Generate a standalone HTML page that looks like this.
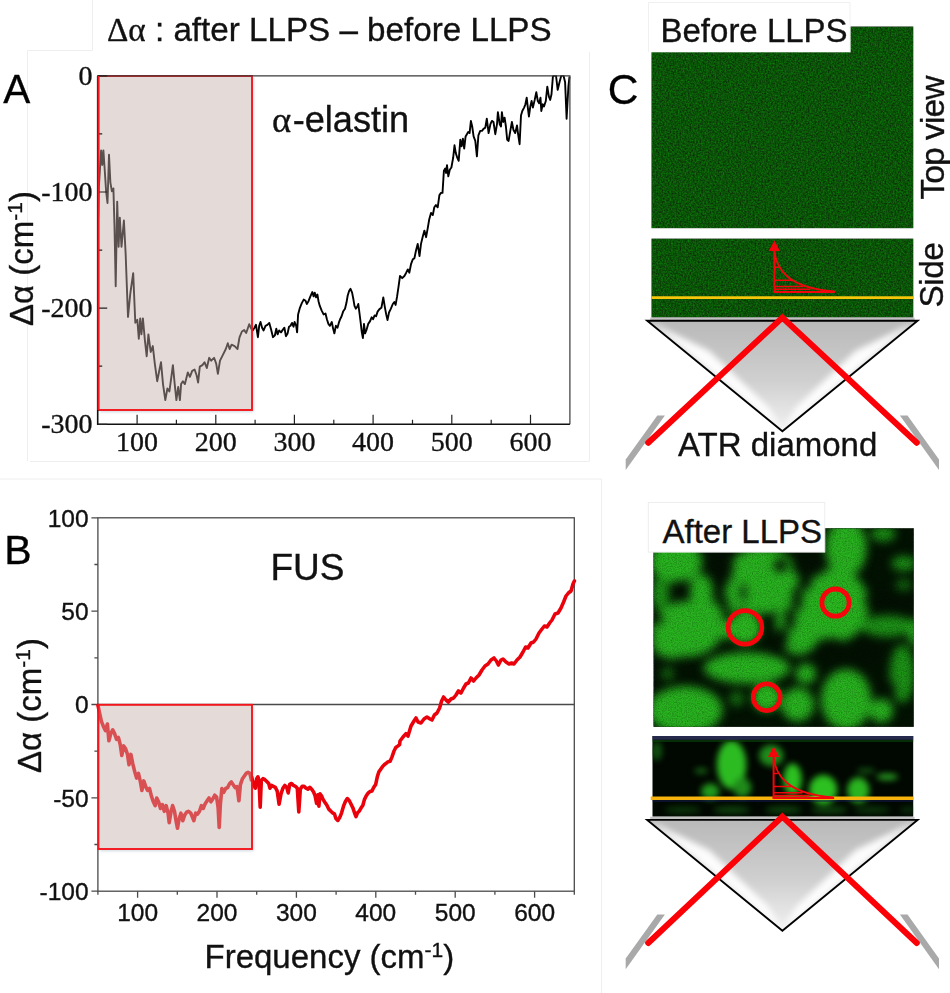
<!DOCTYPE html>
<html><head><meta charset="utf-8"><title>Figure</title>
<style>
html,body{margin:0;padding:0;background:#fff;}
body{width:950px;height:993px;overflow:hidden;font-family:"Liberation Sans", sans-serif;}
svg{display:block;}
.sans{font-family:"Liberation Sans", sans-serif;}
text{stroke:#111;stroke-width:0.35px;paint-order:stroke fill;}
.serif{font-family:"Liberation Serif", serif;}
</style></head><body>
<svg width="950" height="993" viewBox="0 0 950 993">
<defs>
<filter id="noise" x="0" y="0" width="100%" height="100%" color-interpolation-filters="sRGB">
  <feTurbulence type="fractalNoise" baseFrequency="0.6" numOctaves="2" seed="3" result="t"/>
  <feColorMatrix type="matrix" values="0 0 0 0 0.045  0.46 0 0 0 0.095  0 0 0 0 0.03  0 0 0 0 1"/>
</filter>
<filter id="grain" x="0" y="0" width="100%" height="100%" color-interpolation-filters="sRGB">
  <feTurbulence type="fractalNoise" baseFrequency="0.8" numOctaves="2" seed="11"/>
  <feColorMatrix type="matrix" values="0 0 0 0 0  0 0 0 0 0  0 0 0 0 0  0.55 0 0 0 -0.2"/>
</filter>
<filter id="blur6" x="-20%" y="-20%" width="140%" height="140%" color-interpolation-filters="sRGB"><feGaussianBlur stdDeviation="5"/></filter>
<filter id="blurB" x="-20%" y="-20%" width="140%" height="140%" color-interpolation-filters="sRGB"><feGaussianBlur stdDeviation="4.6"/></filter>
<filter id="blur3" x="-20%" y="-20%" width="140%" height="140%" color-interpolation-filters="sRGB"><feGaussianBlur stdDeviation="3"/></filter>
<filter id="blur2" x="-20%" y="-20%" width="140%" height="140%"><feGaussianBlur stdDeviation="2"/></filter>
<filter id="shadow" x="-10%" y="-10%" width="130%" height="130%"><feGaussianBlur stdDeviation="1.5"/></filter>
<linearGradient id="triG" x1="0" y1="0" x2="0" y2="1">
  <stop offset="0" stop-color="#b9b9b9"/><stop offset="0.55" stop-color="#d0d0d0"/><stop offset="1" stop-color="#f2f2f2"/>
</linearGradient>
<clipPath id="clipA"><rect x="97" y="75.3" width="474" height="350"/></clipPath>
<clipPath id="clipTop2"><rect x="653.7" y="528.4" width="260.1" height="198.3"/></clipPath>
<clipPath id="clipSide2"><rect x="652.5" y="736" width="260.7" height="80.6"/></clipPath>
</defs>
<rect width="950" height="993" fill="#ffffff"/>
<g style="opacity:0.999">

<g stroke="#eeeeee" stroke-width="1" fill="none">
<path d="M27.5,50.5 H92.5 V0"/><path d="M27.5,50.5 V461"/><path d="M589.5,52 V461.5 H30"/>
<path d="M0,479 H601.5 V993"/>
</g>
<rect x="99.9" y="78.0" width="153.6" height="334.0" fill="#9fb4c4" opacity="0.55" filter="url(#shadow)"/>
<rect x="98.4" y="76.0" width="153.6" height="334.0" fill="#ffffff"/>
<polyline clip-path="url(#clipA)" points="98.2,217.6 98.8,188.4 101.1,150.4 102.3,165.0 103.4,150.4 104.6,168.0 106.1,191.3 107.5,203.0 109.0,154.8 110.4,182.6 111.9,191.3 113.4,188.4 114.5,226.4 115.7,286.2 117.2,201.6 118.6,246.8 119.8,217.6 121.5,246.8 123.9,220.5 125.6,252.7 128.0,316.9 130.3,293.5 133.2,273.1 135.3,322.7 137.3,319.8 138.8,338.8 140.2,318.4 141.4,334.4 142.9,318.4 144.9,340.3 146.7,356.3 148.4,334.4 150.7,352.0 152.8,346.1 154.8,363.6 157.2,381.2 159.5,369.5 161.0,362.2 163.0,384.1 165.3,400.1 167.4,388.5 169.4,391.4 171.2,378.2 172.9,365.1 174.7,384.1 176.4,400.1 178.2,387.0 179.9,400.1 181.1,384.1 182.9,381.2 184.9,384.1 187.8,372.4 189.9,376.8 192.2,370.9 194.6,369.5 196.6,375.3 198.1,382.6 199.8,366.6 202.4,365.1 204.5,362.2 206.8,368.0 209.2,357.8 211.2,360.7 214.1,357.8 216.2,363.6 217.9,373.9 220.0,360.7 222.9,354.9 225.8,349.0 227.8,343.2 229.6,349.0 231.6,344.7 234.6,346.1 237.5,349.0 239.5,337.4 241.9,331.5 244.2,330.1 246.2,333.0 249.2,324.2 251.2,328.6 252.6,330.5 254.5,327.7 256.0,324.8 257.9,337.2 259.2,325.8 260.5,322.0 262.1,327.7 263.6,330.5 265.5,325.8 267.4,324.8 269.3,322.9 271.1,329.6 273.0,337.2 274.9,335.3 276.3,328.6 277.6,334.3 279.1,330.5 281.0,332.4 282.9,329.6 284.4,327.7 285.9,336.2 287.6,333.4 289.0,326.7 290.5,325.8 292.0,322.9 293.5,326.7 294.6,322.0 296.2,325.8 297.1,332.4 298.1,314.4 299.9,307.8 301.8,303.1 303.7,299.6 305.6,300.8 306.8,304.0 308.5,301.2 310.4,296.4 312.3,292.1 313.6,296.4 314.7,292.6 316.1,297.4 317.4,294.5 318.5,301.2 319.8,305.9 321.7,310.6 323.6,314.4 325.5,313.5 326.9,319.2 328.4,323.9 329.9,325.8 331.8,322.0 333.1,328.6 334.4,333.4 335.9,325.8 337.5,327.7 338.8,322.9 340.1,319.2 341.6,316.3 343.1,311.6 345.0,308.7 346.4,303.1 347.7,295.5 349.2,290.7 350.5,288.8 352.1,292.6 353.4,299.3 354.5,305.9 355.8,308.7 357.2,306.8 358.3,304.0 359.4,312.5 360.6,322.0 361.7,331.5 362.9,338.1 364.0,323.9 365.1,333.4 366.6,329.6 368.2,323.9 370.1,321.1 371.6,317.3 373.1,319.2 374.6,315.4 376.1,316.3 377.6,311.6 379.5,309.1 381.4,307.8 383.3,297.4 384.8,306.8 386.2,314.4 387.5,320.1 389.0,312.5 390.9,308.7 392.8,304.0 394.3,302.1 395.6,304.9 397.1,296.4 398.5,286.9 400.0,276.0 402.2,278.2 404.4,276.0 406.2,272.7 407.8,269.4 409.3,272.7 411.1,263.8 412.8,259.4 414.4,258.3 416.0,250.5 417.7,243.9 419.5,256.1 421.0,243.9 422.6,237.2 424.4,230.6 426.1,237.2 427.7,228.4 429.2,219.5 431.0,212.9 432.8,215.1 434.3,207.3 435.9,205.1 437.7,207.3 439.4,195.1 441.0,192.9 442.5,192.9 443.9,170.8 445.2,168.6 446.1,173.0 447.0,165.2 448.3,176.3 449.8,169.7 451.4,167.5 453.2,157.5 454.5,145.3 455.8,153.1 457.2,157.5 458.7,160.8 460.3,139.8 461.6,146.4 462.9,138.7 464.2,148.6 465.6,136.4 466.9,134.2 468.2,132.0 469.6,133.1 470.9,120.9 472.2,126.5 473.6,136.4 475.3,140.9 476.9,156.4 478.4,135.3 480.2,130.9 482.0,130.9 483.7,128.7 485.3,127.6 486.8,118.7 488.6,133.1 490.4,124.2 491.9,120.9 493.5,122.0 495.3,134.2 497.0,124.2 497.9,112.1 499.7,124.2 501.0,126.5 501.9,112.1 503.2,122.0 504.6,117.6 505.9,126.5 507.2,139.8 508.6,140.9 510.3,130.9 511.9,122.0 513.4,129.8 515.2,133.1 517.0,125.4 518.1,134.2 519.6,144.2 521.0,115.4 522.3,111.0 524.1,107.6 525.4,104.3 526.7,97.7 528.1,109.8 528.9,116.5 530.3,106.5 531.6,101.0 532.9,107.6 534.7,99.9 536.3,92.1 537.8,101.0 539.1,103.2 540.5,97.7 541.3,111.0 542.7,104.3 544.0,106.5 545.8,101.0 547.3,86.6 548.9,96.6 550.2,99.9 551.5,94.3 552.9,76.6 554.2,75.5 556.0,75.5 557.7,89.9 559.5,82.2 561.3,75.5 563.5,75.5 565.1,82.2 566.6,118.7 568.4,86.6 569.5,76.6" fill="none" stroke="#000" stroke-width="1.9" stroke-linejoin="round"/>
<rect x="98.4" y="76.0" width="153.6" height="334.0" fill="#c4aeaa" fill-opacity="0.46" stroke="#f4161c" stroke-width="1.9"/>
<path d="M97.7,75.8 H569.9 V424.3" fill="none" stroke="#3a3a3a" stroke-width="1.2"/>
<path d="M97.7,75.8 V424.3 H569.9" fill="none" stroke="#111" stroke-width="1.6"/>
<path d="M137.1,424.3 v-9.5 M215.8,424.3 v-9.5 M294.4,424.3 v-9.5 M373.1,424.3 v-9.5 M451.8,424.3 v-9.5 M530.5,424.3 v-9.5 M176.4,424.3 v-4.5 M255.1,424.3 v-4.5 M333.8,424.3 v-4.5 M412.5,424.3 v-4.5 M491.2,424.3 v-4.5 M97.7,75.8 h9.5 M97.7,192.0 h9.5 M97.7,308.1 h9.5 M97.7,424.3 h9.5 M97.7,133.9 h4.5 M97.7,250.1 h4.5 M97.7,366.2 h4.5" stroke="#222" stroke-width="1.2" fill="none"/>
<path d="M98.4,76.0 V410.0" stroke="#f4161c" stroke-width="1.9"/>
<g class="serif" font-size="28" fill="#111">
<text x="137.1" y="450.5" text-anchor="middle">100</text>
<text x="215.8" y="450.5" text-anchor="middle">200</text>
<text x="294.4" y="450.5" text-anchor="middle">300</text>
<text x="373.1" y="450.5" text-anchor="middle">400</text>
<text x="451.8" y="450.5" text-anchor="middle">500</text>
<text x="530.5" y="450.5" text-anchor="middle">600</text>
<text x="92.5" y="84.8" text-anchor="end">0</text>
<text x="92.5" y="201.0" text-anchor="end">-100</text>
<text x="92.5" y="317.1" text-anchor="end">-200</text>
<text x="92.5" y="433.3" text-anchor="end">-300</text>
</g>
<text transform="translate(32.5,326) rotate(-90)" font-size="33" fill="#111"><tspan class="sans">Δα (cm</tspan><tspan class="sans" font-size="21" dy="-11">-1</tspan><tspan class="sans" dy="11">)</tspan></text>
<text x="107" y="40.5" font-size="33.2" fill="#111"><tspan class="serif">Δα</tspan><tspan class="sans"> : after LLPS – before LLPS</tspan></text>
<text class="sans" x="3.2" y="102.5" font-size="40.5" fill="#000">A</text>
<text x="272" y="131.7" font-size="36.5" fill="#111"><tspan class="serif">α</tspan><tspan class="sans" dx="1.5" textLength="116.5" lengthAdjust="spacingAndGlyphs">-elastin</tspan></text>
<rect x="99.9" y="706.8" width="153.6" height="144.20000000000005" fill="#9fb4c4" opacity="0.5" filter="url(#shadow)"/>
<rect x="98.4" y="704.8" width="153.6" height="144.20000000000005" fill="#ffffff"/>
<rect x="97.9" y="517.8" width="476.4" height="373.4000000000001" fill="none" stroke="#4a4a4a" stroke-width="1.3"/>
<path d="M97.9,704.5 H574.3" stroke="#4a4a4a" stroke-width="1.3"/>
<path d="M137.6,891.2 v6.5 M217.0,891.2 v6.5 M296.4,891.2 v6.5 M375.8,891.2 v6.5 M455.2,891.2 v6.5 M534.6,891.2 v6.5 M97.9,891.2 v3.5 M177.3,891.2 v3.5 M256.7,891.2 v3.5 M336.1,891.2 v3.5 M415.5,891.2 v3.5 M494.9,891.2 v3.5 M574.3,891.2 v3.5 M97.9,517.8 h-6.5 M97.9,611.1 h-6.5 M97.9,704.5 h-6.5 M97.9,797.9 h-6.5 M97.9,891.2 h-6.5 M97.9,564.5 h-3.5 M97.9,657.8 h-3.5 M97.9,751.2 h-3.5 M97.9,844.5 h-3.5" stroke="#4a4a4a" stroke-width="1.3" fill="none"/>
<polyline points="98.0,705.5 99.5,712.7 101.4,721.3 103.6,726.9 105.5,730.7 107.4,724.1 108.9,740.8 110.8,733.6 112.7,729.8 114.6,733.6 116.5,739.3 118.4,737.4 120.3,744.9 121.8,755.4 123.7,745.9 125.6,748.7 127.5,754.4 129.0,764.8 130.9,754.4 132.8,763.9 134.7,771.5 136.6,778.1 138.5,773.4 140.4,781.9 141.9,790.4 143.8,780.9 145.7,786.6 147.6,790.4 149.5,788.5 151.4,796.1 153.3,801.8 155.2,805.6 156.7,798.0 158.6,801.8 160.5,808.4 162.4,804.6 164.3,811.3 166.2,805.6 168.1,813.2 169.2,822.6 171.1,811.3 172.6,805.6 174.5,811.3 176.0,820.7 177.5,828.3 179.1,818.8 180.9,813.2 182.8,820.7 184.7,815.1 186.6,812.2 188.5,811.3 190.8,813.2 192.3,816.9 193.8,820.7 195.7,813.2 197.6,814.1 199.5,811.3 201.4,805.6 203.3,808.4 205.2,803.7 207.1,800.8 209.0,798.0 210.9,801.8 212.8,798.9 214.7,795.2 216.6,797.1 218.1,807.5 219.2,827.4 220.4,803.7 221.9,788.5 223.8,792.3 225.7,788.5 227.6,787.6 229.5,783.8 231.3,781.9 233.2,784.7 235.1,787.6 237.0,786.6 238.9,800.8 240.4,784.7 242.3,779.1 244.2,776.2 246.1,773.4 248.0,772.4 249.9,773.4 251.4,780.0 251.6,776.8 253.5,784.4 255.4,788.2 256.7,778.7 257.9,776.8 259.0,780.6 260.2,807.2 261.3,780.6 263.0,778.7 264.9,779.7 266.8,781.6 268.7,783.5 270.0,788.2 271.5,785.4 273.4,786.3 275.3,787.3 277.2,791.1 279.1,804.3 281.0,793.9 282.9,788.2 284.8,785.4 286.7,787.3 288.2,792.9 289.7,784.4 291.6,783.5 293.5,785.4 295.4,786.3 297.3,788.2 298.8,811.9 300.3,789.2 302.2,786.3 304.1,786.3 306.0,788.2 307.9,789.2 309.8,787.3 311.7,789.2 313.6,792.0 315.1,795.8 316.6,803.4 317.8,794.8 318.9,806.2 320.0,793.9 321.5,795.8 323.1,799.6 325.0,802.4 326.9,805.3 328.7,809.1 330.6,810.9 332.5,812.8 334.4,813.8 335.9,818.5 337.8,820.4 339.7,817.6 341.6,812.8 343.5,806.2 345.4,801.5 347.3,798.6 349.2,800.5 351.1,804.3 353.0,808.1 354.5,812.8 356.0,816.6 357.5,812.8 359.4,810.9 361.0,808.1 362.9,805.3 364.4,799.6 366.3,795.8 368.2,792.9 370.1,791.6 371.9,791.1 373.8,787.3 375.7,784.4 377.3,776.8 378.8,772.1 380.7,769.3 382.6,766.4 384.5,764.5 386.3,763.2 388.2,761.7 390.1,761.3 392.0,756.9 393.9,751.3 395.8,747.5 397.7,746.1 399.6,744.6 400.0,741.0 403.0,737.0 406.0,733.6 408.0,736.0 411.0,726.0 414.0,721.0 416.0,718.0 418.0,722.0 421.0,723.0 424.0,719.0 427.0,717.0 430.0,719.0 432.0,720.0 434.4,715.0 437.0,713.0 439.6,708.0 441.6,701.0 443.6,697.0 446.0,700.0 448.4,702.0 451.0,699.0 453.6,698.0 456.0,695.0 458.4,691.0 461.0,693.0 463.6,688.0 466.0,684.0 468.4,683.0 471.0,678.0 473.6,681.0 476.0,678.0 479.0,675.0 482.0,670.0 485.0,666.0 488.0,664.0 491.0,660.0 494.0,658.0 496.4,661.0 498.4,665.0 501.0,660.0 503.0,659.0 506.0,662.0 509.0,664.0 511.6,663.0 514.0,664.0 517.0,660.0 520.0,657.0 523.0,652.0 525.6,647.0 528.0,648.0 531.0,643.0 533.6,642.0 536.0,639.0 539.0,633.0 542.0,629.0 544.4,626.0 547.0,627.0 549.6,623.0 552.0,620.0 555.0,614.0 558.0,613.0 561.0,608.0 563.6,602.0 566.0,596.0 568.4,593.0 571.0,591.0 573.0,584.0 574.4,581.0" fill="none" stroke="#ea000b" stroke-width="3.6" stroke-linejoin="round" stroke-linecap="round"/>
<rect x="98.4" y="704.8" width="153.6" height="144.20000000000005" fill="#c4aeaa" fill-opacity="0.46" stroke="#f4161c" stroke-width="1.9"/>
<g class="sans" font-size="24.5" fill="#111">
<text x="137.6" y="920.5" text-anchor="middle">100</text>
<text x="217.0" y="920.5" text-anchor="middle">200</text>
<text x="296.4" y="920.5" text-anchor="middle">300</text>
<text x="375.8" y="920.5" text-anchor="middle">400</text>
<text x="455.2" y="920.5" text-anchor="middle">500</text>
<text x="534.6" y="920.5" text-anchor="middle">600</text>
<text x="88.6" y="526.5" text-anchor="end">100</text>
<text x="88.6" y="619.9" text-anchor="end">50</text>
<text x="88.6" y="713.2" text-anchor="end">0</text>
<text x="88.6" y="806.6" text-anchor="end">-50</text>
<text x="88.6" y="899.9" text-anchor="end">-100</text>
</g>
<text transform="translate(41.3,773) rotate(-90)" font-size="33" fill="#111" class="sans"><tspan>Δα (cm</tspan><tspan font-size="21" dy="-11">-1</tspan><tspan dy="11">)</tspan></text>
<text class="sans" x="204.5" y="967.5" font-size="33" fill="#111"><tspan>Frequency (cm</tspan><tspan font-size="21" dy="-11">-1</tspan><tspan dy="11">)</tspan></text>
<text class="sans" x="4.3" y="563.7" font-size="41" fill="#000">B</text>
<text class="sans" x="270.5" y="580.3" font-size="37" fill="#111">FUS</text>
<rect x="651.5" y="26.5" width="261.8" height="201.7" fill="#072307"/>
<rect x="652.5" y="27.5" width="259.8" height="199.7" filter="url(#noise)"/>
<rect x="648" y="2" width="202.3" height="50.3" fill="#fff"/>
<path d="M648.5,52.3 V2.5 H850 V52.3" fill="none" stroke="#f0f0f0" stroke-width="1"/>
<text class="sans" x="660.5" y="42.4" font-size="33" fill="#111">Before LLPS</text>
<text class="sans" x="607.8" y="104.3" font-size="42.5" fill="#000">C</text>
<text class="sans" transform="translate(943.7,199.6) rotate(-90)" font-size="33.5" fill="#111" textLength="124" lengthAdjust="spacing">Top view</text>
<text class="sans" transform="translate(943.3,307.6) rotate(-90)" font-size="33.5" fill="#111" textLength="65.6" lengthAdjust="spacing">Side</text>
<rect x="651.5" y="238.6" width="261.8" height="79" fill="#072307"/>
<rect x="652.5" y="239.6" width="259.8" height="77" filter="url(#noise)"/>
<path d="M651.5,297.6 H913.3" stroke="#f6c60a" stroke-width="2.8"/>
<g stroke="#f2060c" fill="none" stroke-width="2">
<path d="M774.4,291.9 V249.89999999999998"/>
<path d="M773.4,291.9 H834.9"/>
<path d="M774.4,250.89999999999998 C776.4,269.9 788.4,287.9 834.4,291.4" stroke-width="1.8"/>
<path d="M774.4,267.29999999999995 h4.3 M774.4,280.29999999999995 h17.5 M774.4,286.59999999999997 h29 M774.4,289.29999999999995 h36" stroke-width="1.5"/>
</g>
<path d="M774.4,240.39999999999998 l5.6,10.5 h-11.2 z" fill="#f2060c"/>
<clipPath id="tca"><path d="M647.2,320.7 L917.6,320.7 L782.4,431.3 Z"/></clipPath>
<path d="M650.2,318.7 H914.6" stroke="#c2c2c2" stroke-width="2.4"/>
<path d="M647.2,320.7 L917.6,320.7 L782.4,431.3 Z" fill="url(#triG)"/>
<g clip-path="url(#tca)"><g filter="url(#blur3)" fill="#ffffff" opacity="0.95">
<path d="M647.2,320.7 L709.2,350.7 L768.4,407.3 L782.4,431.3 Z"/>
<path d="M917.6,320.7 L855.6,350.7 L796.4,407.3 L782.4,431.3 Z"/>
</g></g>
<path d="M647.2,320.7 L917.6,320.7 L782.4,431.3 Z" fill="none" stroke="#000" stroke-width="1.9" stroke-linejoin="miter"/>
<path d="M657.3,415.4 h7.6 L625.7,470.09999999999997 v-10.7 Z" fill="#a9a9a9"/>
<path d="M907.5,415.4 h-7.6 L939,470.09999999999997 v-10.7 Z" fill="#a9a9a9"/>
<path d="M648.2,442.8 L782.4,317.5 L916.8,442.8" fill="none" stroke="#fb0007" stroke-width="6" stroke-linecap="round" stroke-linejoin="miter"/>
<text class="sans" x="678" y="455.5" font-size="33" fill="#111">ATR diamond</text>
<rect x="653.5" y="528.2" width="260.3" height="198.7" fill="#021202"/>
<g clip-path="url(#clipTop2)"><g filter="url(#blurB)">
<ellipse cx="676.1" cy="561.8" rx="26.1" ry="21.4" fill="#28b41f"/>
<ellipse cx="660.3" cy="593.5" rx="9.3" ry="15.8" fill="#1c9416"/>
<ellipse cx="701.3" cy="591.6" rx="11.6" ry="17.7" fill="#28b41f"/>
<ellipse cx="687.3" cy="628.9" rx="35.4" ry="28.0" fill="#28b41f"/>
<ellipse cx="672.4" cy="641.9" rx="20.9" ry="16.8" fill="#28b41f"/>
<ellipse cx="705.9" cy="619.6" rx="17.7" ry="20.9" fill="#28b41f"/>
<ellipse cx="745.1" cy="628.0" rx="15.7" ry="15.7" fill="#28b41f"/>
<ellipse cx="726.4" cy="629.8" rx="7.8" ry="9.3" fill="#28b41f"/>
<ellipse cx="761.9" cy="580.4" rx="37.3" ry="33.6" fill="#28b41f"/>
<ellipse cx="733.0" cy="600.9" rx="11.6" ry="11.6" fill="#28b41f"/>
<ellipse cx="746.9" cy="668.0" rx="43.3" ry="15.7" fill="#28b41f"/>
<ellipse cx="667.7" cy="673.6" rx="6.3" ry="6.3" fill="#157211"/>
<ellipse cx="685.4" cy="710.0" rx="37.3" ry="23.9" fill="#28b41f"/>
<ellipse cx="736.7" cy="698.8" rx="7.5" ry="7.5" fill="#157211"/>
<ellipse cx="766.5" cy="697.5" rx="13.8" ry="13.8" fill="#28b41f"/>
<ellipse cx="846.1" cy="547.7" rx="20.6" ry="28.9" fill="#28b41f"/>
<ellipse cx="833.7" cy="605.5" rx="35.1" ry="37.2" fill="#28b41f"/>
<ellipse cx="798.6" cy="624.1" rx="23.1" ry="31.0" fill="#28b41f"/>
<ellipse cx="887.4" cy="626.2" rx="26.8" ry="10.7" fill="#1c9416"/>
<ellipse cx="883.2" cy="533.7" rx="12.4" ry="7.8" fill="#1c9416"/>
<ellipse cx="903.9" cy="563.4" rx="12.4" ry="7.4" fill="#1c9416"/>
<ellipse cx="903.9" cy="584.9" rx="8.3" ry="5.4" fill="#157211"/>
<ellipse cx="913.8" cy="632.4" rx="5.4" ry="13.6" fill="#28b41f"/>
<ellipse cx="902.2" cy="673.7" rx="12.4" ry="28.9" fill="#1c9416"/>
<ellipse cx="846.1" cy="699.5" rx="25.2" ry="30.6" fill="#28b41f"/>
<ellipse cx="805.8" cy="673.7" rx="10.3" ry="10.3" fill="#28b41f"/>
<ellipse cx="797.6" cy="704.6" rx="16.5" ry="16.9" fill="#28b41f"/>
<ellipse cx="881.2" cy="710.8" rx="12.0" ry="12.0" fill="#28b41f"/>
<ellipse cx="782.1" cy="572.5" rx="10.3" ry="17.6" fill="#28b41f"/>
<ellipse cx="680.8" cy="590.7" rx="9.3" ry="10.4" fill="#021002"/>
<ellipse cx="743.2" cy="592.5" rx="2.8" ry="9.3" fill="#021002"/>
<ellipse cx="780.5" cy="565.5" rx="6.7" ry="6.7" fill="#021002"/>
<ellipse cx="657.8" cy="619.6" rx="5.6" ry="4.5" fill="#021002"/>
<ellipse cx="721.8" cy="565.5" rx="11.6" ry="20.5" fill="#021002"/>
<ellipse cx="724.6" cy="604.7" rx="4.1" ry="8.4" fill="#021002"/>
<ellipse cx="887.4" cy="601.4" rx="23.1" ry="9.9" fill="#021002"/>
<ellipse cx="831.6" cy="646.4" rx="12.8" ry="8.7" fill="#021002"/>
<ellipse cx="866.7" cy="651.4" rx="12.4" ry="14.9" fill="#021002"/>
<ellipse cx="808.9" cy="566.3" rx="16.9" ry="11.4" fill="#021002"/>
<ellipse cx="848.1" cy="661.3" rx="14.5" ry="6.2" fill="#021002"/>
<ellipse cx="887.4" cy="690.2" rx="8.3" ry="9.3" fill="#021002"/>
<ellipse cx="816.4" cy="558.9" rx="7.3" ry="11.3" fill="#021002"/>
<ellipse cx="805.7" cy="578.6" rx="6.2" ry="11.8" fill="#021002"/>
<ellipse cx="797.2" cy="598.9" rx="5.1" ry="12.4" fill="#021002"/>
<ellipse cx="789.9" cy="618.7" rx="5.1" ry="11.8" fill="#021002"/>
<ellipse cx="782.6" cy="637.3" rx="5.6" ry="10.2" fill="#021002"/>
<ellipse cx="777.5" cy="650.5" rx="6.8" ry="6.8" fill="#021002"/>
</g>
<path d="M653.6,528.4 V726.8" stroke="#5a4fb0" stroke-width="1" opacity="0.7"/>
<g filter="url(#blur3)" fill="#2cc020" opacity="0.55"><circle cx="745" cy="627.5" r="13"/><circle cx="835.5" cy="602.6" r="11"/><circle cx="766.7" cy="697.2" r="11"/></g>
</g>
<rect x="653.7" y="528.4" width="260.1" height="198.3" filter="url(#grain)"/>
<g fill="none" stroke="#f5060c" stroke-width="4.8">
<circle cx="745" cy="627.4" r="16.8"/><circle cx="835.5" cy="602.6" r="13.6"/><circle cx="766.7" cy="697.2" r="13.4"/>
</g>
<rect x="648.3" y="502.5" width="176.5" height="49.6" fill="#fff" stroke="#ededed" stroke-width="1"/>
<text class="sans" x="662.5" y="542.6" font-size="33" fill="#111">After LLPS</text>
<rect x="652.5" y="736" width="260.7" height="80.6" fill="#010701"/>
<g clip-path="url(#clipSide2)"><g filter="url(#blur3)">
<ellipse cx="731.6" cy="764.7" rx="14.7" ry="24.4" fill="#2cbc22"/>
<ellipse cx="710.2" cy="791.5" rx="9.2" ry="7.9" fill="#229a1c"/>
<ellipse cx="701.1" cy="770.8" rx="6.7" ry="2.4" fill="#1c7a18"/>
<ellipse cx="771.3" cy="755.5" rx="12.2" ry="10.7" fill="#1f8a1a"/>
<ellipse cx="792.6" cy="779.3" rx="9.2" ry="15.9" fill="#2cc020"/>
<ellipse cx="823.2" cy="789.7" rx="14.0" ry="14.7" fill="#2cc020"/>
<ellipse cx="858.3" cy="790.3" rx="11.0" ry="12.8" fill="#2ab420"/>
<ellipse cx="865.9" cy="770.8" rx="9.2" ry="2.4" fill="#166014"/>
<ellipse cx="887.3" cy="776.9" rx="11.0" ry="3.1" fill="#2aa822"/>
<ellipse cx="656.8" cy="750.9" rx="5.5" ry="9.8" fill="#115010"/>
<ellipse cx="742.3" cy="787.6" rx="9.2" ry="9.8" fill="#1f8a1a"/>
<ellipse cx="731.6" cy="809.9" rx="18.3" ry="3.7" fill="#0f450d"/>
<ellipse cx="783.5" cy="809.9" rx="18.3" ry="3.7" fill="#0f450d"/>
<ellipse cx="829.3" cy="809.9" rx="18.3" ry="3.7" fill="#0f450d"/>
<ellipse cx="682.7" cy="809.9" rx="18.3" ry="3.7" fill="#0b360a"/>
<ellipse cx="872.0" cy="809.9" rx="18.3" ry="3.7" fill="#0b360a"/>
<ellipse cx="908.6" cy="809.9" rx="9.2" ry="3.1" fill="#0a300a"/>
</g></g>
<path d="M652.5,741 H913.2" stroke="#0b4a0a" stroke-width="1.6" opacity="0.8"/>
<path d="M652.5,737.9 H913.2" stroke="#262a4c" stroke-width="3.8"/>
<path d="M652.5,801 H913.2" stroke="#141c50" stroke-width="1.2"/>
<path d="M650.7,798.3 H913.2" stroke="#f7b40c" stroke-width="3.6"/>
<g stroke="#f2060c" fill="none" stroke-width="2">
<path d="M773.6,798.0 V756.0"/>
<path d="M772.6,798.0 H834.1"/>
<path d="M773.6,757.0 C775.6,776.0 787.6,794.0 833.6,797.5" stroke-width="1.8"/>
<path d="M773.6,773.4 h4.3 M773.6,786.4 h17.5 M773.6,792.7 h29 M773.6,795.4 h36" stroke-width="1.5"/>
</g>
<path d="M773.6,746.5 l5.6,10.5 h-11.2 z" fill="#f2060c"/>
<clipPath id="tcb"><path d="M647.2,819.9 L917.6,819.9 L782.4,930.8 Z"/></clipPath>
<path d="M650.2,817.9 H914.6" stroke="#c2c2c2" stroke-width="2.4"/>
<path d="M647.2,819.9 L917.6,819.9 L782.4,930.8 Z" fill="url(#triG)"/>
<g clip-path="url(#tcb)"><g filter="url(#blur3)" fill="#ffffff" opacity="0.95">
<path d="M647.2,819.9 L709.2,849.9 L768.4,906.8 L782.4,930.8 Z"/>
<path d="M917.6,819.9 L855.6,849.9 L796.4,906.8 L782.4,930.8 Z"/>
</g></g>
<path d="M647.2,819.9 L917.6,819.9 L782.4,930.8 Z" fill="none" stroke="#000" stroke-width="1.9" stroke-linejoin="miter"/>
<path d="M657.3,914.5 h7.6 L625.7,969.2 v-10.7 Z" fill="#a9a9a9"/>
<path d="M907.5,914.5 h-7.6 L939,969.2 v-10.7 Z" fill="#a9a9a9"/>
<path d="M648.2,943.0 L782.4,816.5 L916.8,943.0" fill="none" stroke="#fb0007" stroke-width="6" stroke-linecap="round" stroke-linejoin="miter"/>
</g></svg></body></html>
